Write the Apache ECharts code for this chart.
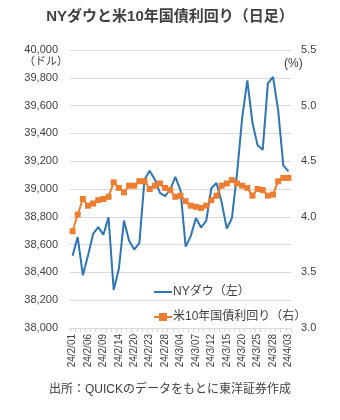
<!DOCTYPE html>
<html><head><meta charset="utf-8">
<script src="https://cdn.jsdelivr.net/npm/echarts@6/dist/echarts.min.js"></script>
<style>html,body{margin:0;padding:0;background:#fff}#c{width:340px;height:420px}</style>
</head><body><div id="c"></div>
<script>
const dates = ["24/2/01","24/2/02","24/2/05","24/2/06","24/2/07","24/2/08","24/2/09","24/2/12","24/2/13","24/2/14","24/2/15","24/2/16","24/2/20","24/2/21","24/2/22","24/2/23","24/2/26","24/2/27","24/2/28","24/2/29","24/3/01","24/3/04","24/3/05","24/3/06","24/3/07","24/3/08","24/3/11","24/3/12","24/3/13","24/3/14","24/3/15","24/3/18","24/3/19","24/3/20","24/3/21","24/3/22","24/3/25","24/3/26","24/3/27","24/3/28","24/4/01","24/4/02","24/4/03"];
const dow = [38520,38654,38380,38521,38677,38726,38672,38797,38273,38424,38773,38628,38564,38612,39069,39132,39069,38972,38949,38996,39087,38990,38585,38661,38791,38723,38770,39005,39043,38906,38715,38790,39111,39512,39781,39476,39314,39282,39760,39807,39567,39170,39127];
const yld = [3.87,4.02,4.16,4.10,4.12,4.15,4.16,4.18,4.31,4.26,4.22,4.28,4.28,4.32,4.32,4.25,4.28,4.30,4.26,4.24,4.18,4.19,4.14,4.10,4.09,4.08,4.10,4.15,4.19,4.28,4.30,4.33,4.30,4.28,4.26,4.19,4.25,4.24,4.19,4.20,4.32,4.35,4.35];
const leftTicks = {min:38000, max:40000, interval:200};
const rightTicks = {min:3.0, max:5.5, interval:0.5};
const title = "NYダウと米10年国債利回り（日足）";
const source = "出所：QUICKのデータをもとに東洋証券作成";
const seriesNames = ["NYダウ（左）","米10年国債利回り（右）"];

const FONT = "'Liberation Sans', 'Noto Sans CJK JP', sans-serif";
const chart = echarts.init(document.getElementById('c'), null, {renderer:'canvas'});
chart.setOption({
  animation:false,
  textStyle:{fontFamily:FONT},
  title:{text:title,left:'center',top:4,textStyle:{fontSize:15,fontWeight:'bold',color:'#404040',fontFamily:FONT}},
  grid:{left:70,right:49,top:50,bottom:92},
  legend:{orient:'vertical',left:148,top:281,itemWidth:18,itemHeight:10,itemGap:13,
    textStyle:{fontSize:12,color:'#404040',padding:[0,0,0,-4]},
    data:[{name:seriesNames[0],itemStyle:{opacity:0}},{name:seriesNames[1]}]},
  xAxis:{type:'category',data:dates,boundaryGap:true,
    axisLine:{lineStyle:{color:'#d9d9d9'}},
    axisTick:{show:true,interval:0,length:4,lineStyle:{color:'#d9d9d9'}},
    axisLabel:{rotate:90,interval:2,fontSize:10,color:'#404040',margin:6,fontFamily:FONT}},
  yAxis:[
    {type:'value',min:leftTicks.min,max:leftTicks.max,interval:leftTicks.interval,
     axisLabel:{fontSize:11,color:'#404040',margin:12,formatter:v=>v.toLocaleString('en-US')},
     splitLine:{lineStyle:{color:'#d9d9d9'}},axisLine:{show:false},axisTick:{show:false}},
    {type:'value',min:rightTicks.min,max:rightTicks.max,interval:rightTicks.interval,position:'right',
     axisLabel:{fontSize:11,color:'#404040',margin:10,formatter:v=>v.toFixed(1)},
     splitLine:{show:false},axisLine:{show:false},axisTick:{show:false}}
  ],
  graphic:[
    {type:'text',left:24,top:56,style:{text:'（ドル）',fontSize:11,fill:'#404040',fontFamily:FONT}},
    {type:'text',left:284,top:58,style:{text:'(%)',fontSize:12,fill:'#404040',fontFamily:FONT}},
    {type:'text',left:'center',top:384,style:{text:source,fontSize:12,fill:'#404040',fontFamily:FONT}}
  ],
  series:[
    {name:seriesNames[0],type:'line',yAxisIndex:0,data:dow,symbol:'none',
     lineStyle:{color:'#2E75B6',width:2},itemStyle:{color:'#2E75B6'}},
    {name:seriesNames[1],type:'line',yAxisIndex:1,data:yld,symbol:'rect',symbolSize:6,
     showSymbol:true,showAllSymbol:true,
     lineStyle:{color:'#ED7D31',width:2},itemStyle:{color:'#ED7D31'}}
  ]
});
</script></body></html>
